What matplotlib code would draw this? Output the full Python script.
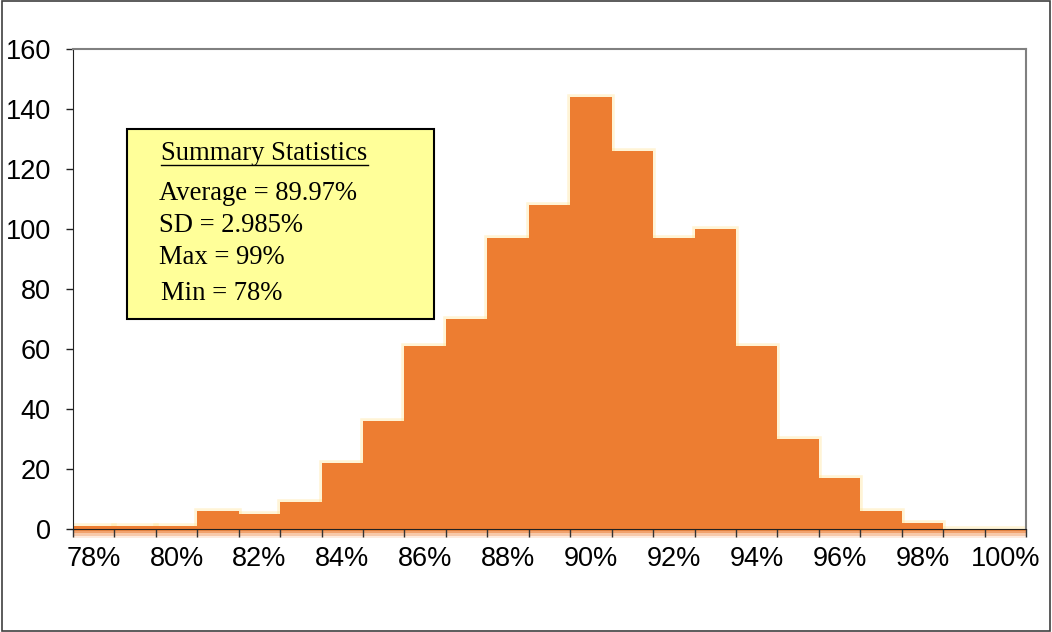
import matplotlib.pyplot as plt
from matplotlib.patches import Rectangle

# score bins (percent) and number of cases in each bin
bins = list(range(78, 101))
counts = [1, 1, 1, 6, 5, 9, 22, 36, 61, 70, 97, 108, 144, 126, 97, 100, 61, 30, 17, 6, 2, 0, 0]
tick_labels = [f'{b}%' for b in bins]
stats_title = 'Summary Statistics'
stats_lines = ['Average = 89.97%', 'SD = 2.985%', 'Max = 99%', 'Min = 78%']

orange = '#ED7D31'

fig = plt.figure(figsize=(10.52, 6.32), dpi=100)
ax = fig.add_axes([0.0694, 0.1630, 0.9059, 0.7595])

x = list(range(len(bins)))
# soft glow around the bars
ax.bar(x, counts, width=1.0, color='none', edgecolor='#FFE08A', linewidth=4, alpha=0.35, zorder=1)
ax.bar(x, counts, width=1.0, color=orange, edgecolor='none', zorder=2)

# shadow band just under the axis
for i, a in enumerate([0.7, 0.5, 0.3, 0.15]):
    r = ax.axhspan(-0.75 * (i + 1), 0, color=orange, alpha=a, lw=0, zorder=0)
    r.set_clip_on(False)

ax.set_xlim(-0.5, len(bins) - 0.5)
ax.set_ylim(0, 160)
ax.set_yticks(range(0, 161, 20))

# ticks between categories, labels on every other category
ax.set_xticks([i - 0.5 for i in range(len(bins) + 1)])
ax.set_xticklabels([])
ax.set_xticks(x[::2], minor=True)
ax.set_xticklabels(tick_labels[::2], minor=True)
ax.tick_params(axis='x', which='major', length=6, width=1, color='#333333', direction='out')
ax.tick_params(axis='x', which='minor', length=0, pad=12, labelsize=19.5)
ax.tick_params(axis='y', length=5, width=1, color='#222222', pad=11, labelsize=19.5)
for lab in ax.get_xticklabels(minor=True) + ax.get_yticklabels():
    lab.set_fontfamily('Liberation Sans')

ax.spines['top'].set_color('#808080')
ax.spines['right'].set_color('#808080')
ax.spines['top'].set_linewidth(1.5)
ax.spines['right'].set_linewidth(1.5)
ax.spines['left'].set_color('#222222')
ax.spines['bottom'].set_color('#222222')
for s in ax.spines.values():
    s.set_zorder(3)

# summary statistics box
box = Rectangle((127 / 1052, 1 - 319 / 632), (434 - 127) / 1052, (319 - 129) / 632,
                transform=fig.transFigure, facecolor='#FFFF99', edgecolor='black',
                linewidth=1.5, zorder=5)
fig.patches.append(box)
fig.text(161 / 1052, 1 - 153 / 632, stats_title, fontsize=19.2, family='Liberation Serif',
         va='center', ha='left', zorder=6)
fig.add_artist(plt.Line2D([161 / 1052, 368 / 1052], [1 - 165 / 632, 1 - 165 / 632],
                          color='black', lw=1, zorder=6))
ys = [193, 226, 258, 294]
xs = [159, 159, 159, 161]
for line, yy, xx in zip(stats_lines, ys, xs):
    fig.text(xx / 1052, 1 - yy / 632, line, fontsize=19.2, family='Liberation Serif',
             va='center', ha='left', zorder=6)

# outer border of the chart
fig.patches.append(Rectangle((0.002, 0.002), 0.996, 0.996, transform=fig.transFigure,
                             facecolor='none', edgecolor='#404040', linewidth=1.2))

fig.savefig('out.png', dpi=100)
